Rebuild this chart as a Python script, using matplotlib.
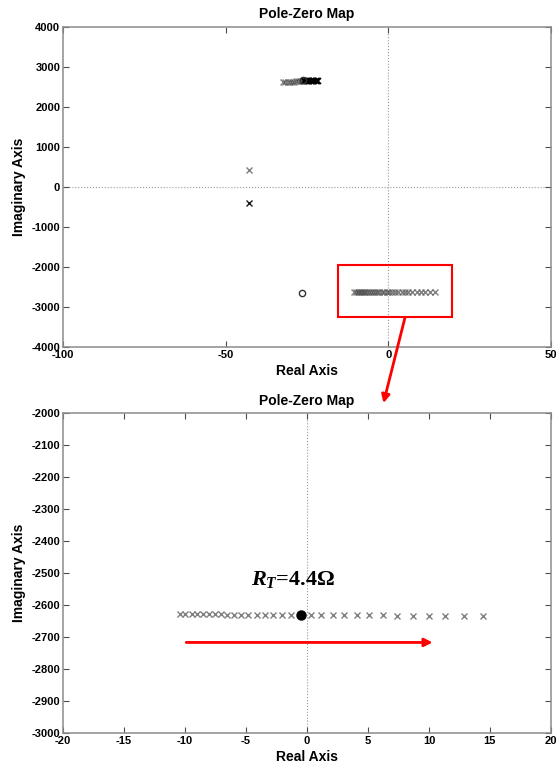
import matplotlib
matplotlib.use("Agg")
import matplotlib.pyplot as plt
from matplotlib.patches import Rectangle, ConnectionPatch

# polos que se desplazan al variar R_T (rama inferior)
polos_re = [-10.42, -9.96, -9.46, -9.00, -8.53, -8.04, -7.57, -7.07, -6.55,
            -5.97, -5.39, -4.80, -4.13, -3.46, -2.77, -2.04, -1.31,
            0.32, 1.19, 2.10, 3.06, 4.08, 5.12, 6.20, 7.42, 8.68,
            10.00, 11.35, 12.84, 14.41]
polos_im = [-2629, -2629, -2629, -2629, -2629, -2629, -2629, -2629, -2630,
            -2630, -2630, -2630, -2630, -2630, -2630, -2631, -2631,
            -2631, -2631, -2631, -2632, -2632, -2632, -2632, -2633, -2633,
            -2633, -2634, -2634, -2634]

# polo para R_T = 4.4 ohm
polo_rt_re = -0.52
polo_rt_im = -2630

# rama superior
sup_gris_re = [-32.5, -31.7, -30.9, -30.2, -29.5, -28.9, -28.3, -27.7, -27.1, -26.6]
sup_gris_im = [2625, 2626, 2627, 2628, 2629, 2630, 2631, 2632, 2633, 2634]
sup_negro_re = [-26.0, -25.5, -25.1, -24.7, -24.3, -23.9, -23.5, -23.1, -22.7,
                -22.3, -21.9, -21.5]
sup_negro_im = [2635, 2636, 2637, 2638, 2639, 2640, 2641, 2642, 2643,
                2644, 2645, 2646]

# polos aislados y ceros
polo_aisl_re = [-42.7, -42.7]
polo_aisl_im = [410, -400]
polo_aisl_col = ["0.5", "0.1"]
ceros_re = [-26.3, -26.5]
ceros_im = [2670, -2640]

etiqueta_rt = r"$R_{T}$=4.4Ω"

plt.rcParams["font.family"] = ["Liberation Sans", "DejaVu Sans"]
plt.rcParams["axes.unicode_minus"] = False
plt.rcParams["mathtext.fontset"] = "custom"
plt.rcParams["mathtext.rm"] = "Liberation Serif:bold"
plt.rcParams["mathtext.it"] = "Liberation Serif:italic:bold"
plt.rcParams["mathtext.bf"] = "Liberation Serif:bold"

fig = plt.figure(figsize=(5.57, 7.71), dpi=100)
ax1 = fig.add_axes([0.1131, 0.550, 0.876, 0.4154])
ax2 = fig.add_axes([0.1131, 0.0493, 0.876, 0.415])


def estilo_ejes(ax):
    for s in ax.spines.values():
        s.set_color("0.55")
        s.set_linewidth(1.1)
    ax.tick_params(direction="in", length=4, width=0.8, color="0.3",
                   top=True, right=True, labelsize=8, pad=2)
    for lab in ax.get_xticklabels() + ax.get_yticklabels():
        lab.set_fontweight("bold")
    ax.set_xlabel("Real Axis", fontsize=10, fontweight="bold", labelpad=3)
    ax.set_ylabel("Imaginary Axis", fontsize=10, fontweight="bold", labelpad=4)
    ax.set_title("Pole-Zero Map", fontsize=10, fontweight="bold", pad=6)


# ---- mapa completo ----
ax1.set_xlim(-100, 50)
ax1.set_ylim(-4000, 4000)
ax1.set_xticks([-100, -50, 0, 50])
ax1.set_yticks(range(-4000, 4001, 1000))
ax1.axvline(0, color="0.6", ls=":", lw=0.8, zorder=0)
ax1.axhline(0, color="0.6", ls=":", lw=0.8, zorder=0)

ax1.plot(polos_re + [polo_rt_re], polos_im + [polo_rt_im], "x", color="0.3",
         alpha=0.7, ms=4, mew=1)
ax1.plot(sup_gris_re, sup_gris_im, "x", color="0.3", alpha=0.7, ms=4, mew=1)
ax1.plot(sup_negro_re, sup_negro_im, "x", color="0.0", ms=4, mew=1.2)
for re, im, c in zip(polo_aisl_re, polo_aisl_im, polo_aisl_col):
    ax1.plot(re, im, "x", color=c, ms=4, mew=1)
ax1.plot(ceros_re, ceros_im, "o", mfc="none", mec="0.2", ms=4.5, mew=1)

ax1.add_patch(Rectangle((-15.5, -3245), 35.1, 1295, fill=False,
                        ec="red", lw=1.5, clip_on=False, zorder=5))
estilo_ejes(ax1)

# ---- detalle de la rama inferior ----
ax2.set_xlim(-20, 20)
ax2.set_ylim(-3000, -2000)
ax2.set_xticks(range(-20, 21, 5))
ax2.set_yticks(range(-3000, -1999, 100))
ax2.axvline(0, color="0.6", ls=":", lw=0.8, zorder=0)

ax2.plot(polos_re, polos_im, "x", color="0.5", ms=4, mew=1)
ax2.plot(polo_rt_re, polo_rt_im, "o", color="black", ms=6.5)
ax2.text(-1.15, -2519, etiqueta_rt, fontsize=16, fontweight="bold",
         family="Liberation Serif", ha="center", va="center")
ax2.annotate("", xy=(10.3, -2717), xytext=(-9.9, -2717),
             arrowprops=dict(arrowstyle="-|>", color="red", lw=2,
                             mutation_scale=12, shrinkA=0, shrinkB=0))
estilo_ejes(ax2)

# flecha entre los dos mapas
con = ConnectionPatch(xyA=(5.13, -3268), coordsA=ax1.transData,
                      xyB=(6.27, -1969), coordsB=ax2.transData,
                      arrowstyle="-|>", color="red", lw=2, mutation_scale=12,
                      shrinkA=0, shrinkB=0)
fig.add_artist(con)

fig.savefig("out.png", dpi=100)
